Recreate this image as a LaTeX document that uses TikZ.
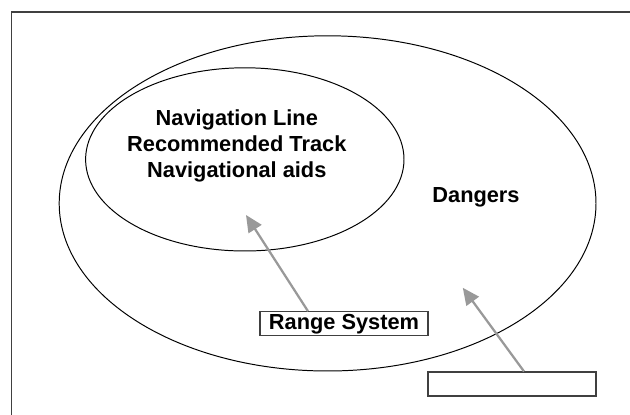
\documentclass[tikz,border=0pt]{standalone}
\usepackage{fontspec}
\setmainfont{Liberation Sans}
\usetikzlibrary{arrows.meta,positioning}

\tikzset{
  label/.style={font=\bfseries\fontsize{15.5}{18.5}\selectfont, align=center},
  rangebox/.style={draw=black!75, line width=.8pt, minimum width=4.2cm, minimum height=.6cm, inner sep=0pt},
  pointer/.style={draw=black!40, line width=1.6pt, -{Triangle[length=.42cm,width=.38cm]}}
}

\begin{document}
\begin{tikzpicture}
  % helper grid: comment for final drawing
  % \draw[help lines,step=.25] (0,0) grid (15.75,10.375);
  \clip (0,0) rectangle (15.75,10.375);
  % outer frame (runs off the page at right and bottom)
  \draw[black!75, line width=1.1pt] (0.29,-1) -- (0.29,10.075) -- (17,10.075);
  % the two ellipses
  \draw[line width=.7pt] (8.19,5.29) ellipse [x radius=6.71, y radius=4.19];
  \draw[line width=.7pt] (6.12,6.39) ellipse [x radius=3.98, y radius=2.29];
  \node[label] (nav) at (5.92,6.72) {Navigation Line\\Recommended Track\\Navigational aids};
  \node[label] (dangers) at (11.9,5.45) {Dangers};
  \node[rangebox, label] (range) at (8.6,2.28) {Range System};
  \node[rangebox] (blank) at (12.8,0.775) {};
  \coordinate (navtip) at (6.15,5.0);
  \coordinate (dangertip) at (11.57,3.18);
  \draw[pointer] ([xshift=-0.9cm]range.north) -- (navtip);
  \draw[pointer] ([xshift=0.3cm]blank.north) -- (dangertip);
\end{tikzpicture}
\end{document}
